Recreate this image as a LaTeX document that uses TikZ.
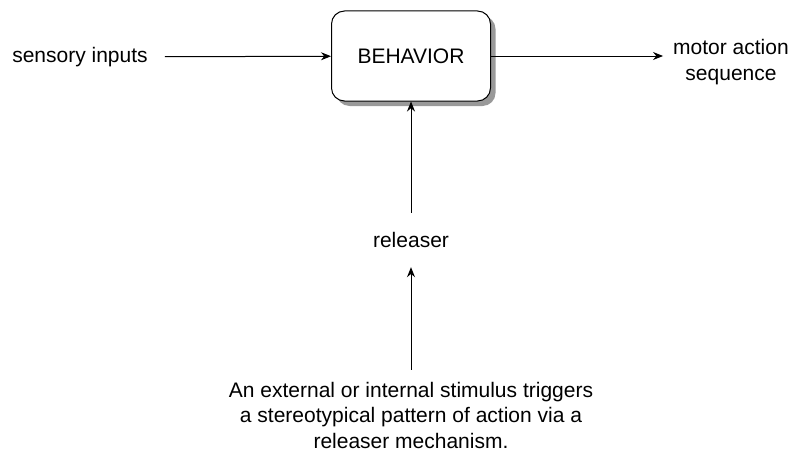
\documentclass[tikz,border=0pt]{standalone}
\usepackage{fontspec}
\setmainfont{Liberation Sans}
\usetikzlibrary{arrows.meta,positioning,shadows}

\begin{document}
\begin{tikzpicture}[x=1pt,y=-1pt,
  font=\fontsize{21}{25.5}\selectfont,
  >={Stealth[length=10pt,width=8pt]},
  behbox/.style={draw,line width=1pt,fill=white,rounded corners=13pt,
    minimum width=159pt,minimum height=90pt,
    drop shadow={fill=gray!80,opacity=1,shadow xshift=5pt,shadow yshift=-5pt}},
  lbl/.style={inner sep=0pt,align=center}]
\useasboundingbox (0,0) rectangle (791,452);
\node[behbox] (beh) at (411,56) {BEHAVIOR};
\node[lbl] (sens) at (80,57) {sensory inputs};
\node[lbl] (motor) at (731,62) {motor action\\sequence};
\node[lbl,minimum height=54pt] (rel) at (411,240) {releaser};
\node[lbl,inner ysep=12pt] (stim) at (411,415) {An external or internal stimulus triggers\\a stereotypical pattern of action via a\\releaser mechanism.};
\draw[->,line width=1pt,shorten <=17pt] (sens) -- (beh);
\draw[->,line width=1pt,shorten >=10pt] (beh) -- (motor.west |- beh);
\draw[->,line width=1pt] (rel) -- (beh);
\draw[->,line width=1pt] (stim) -- (rel);
\end{tikzpicture}
\end{document}
